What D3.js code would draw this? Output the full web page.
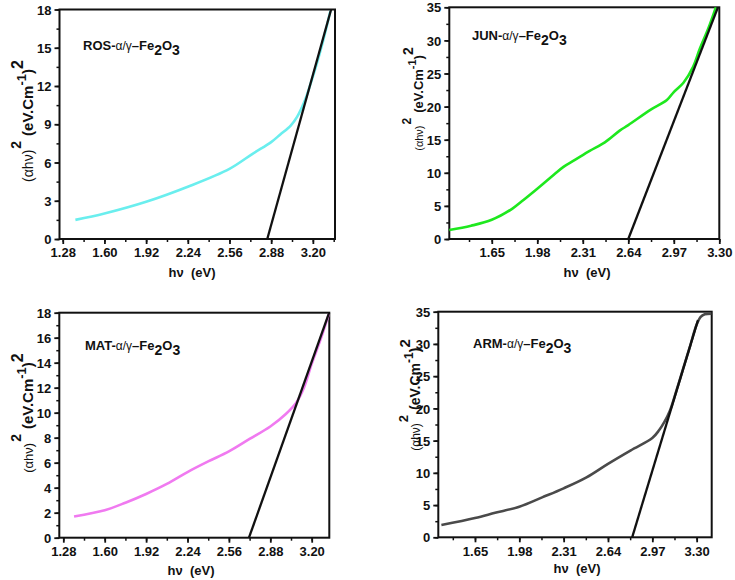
<!DOCTYPE html>
<html>
<head>
<meta charset="utf-8">
<script src="https://cdn.jsdelivr.net/npm/d3@7"></script>
<style>
  body { margin: 0; background: #fff; }
  svg { display: block; }
  text { font-family: "Liberation Sans", Arial, sans-serif; fill: #111; }
</style>
</head>
<body>
<div id="chart"></div>
<script>
// ---- data ----
const rosX = [1.377, 1.60, 1.92, 2.24, 2.56, 2.74, 2.88, 2.95, 3.03, 3.08, 3.14, 3.18, 3.22, 3.28, 3.335];
const rosY = [1.5, 2.0, 2.92, 4.1, 5.5, 6.7, 7.6, 8.2, 8.9, 9.6, 10.9, 12.1, 13.4, 15.6, 17.9];
const rosFitX = [2.85, 3.34];
const rosFitY = [0, 18];

const junX = [1.342, 1.50, 1.65, 1.80, 1.88, 1.98, 2.10, 2.17, 2.25, 2.36, 2.47, 2.58, 2.64, 2.80, 2.92, 2.97, 3.04, 3.11, 3.16, 3.22, 3.275];
const junY = [1.35, 2.0, 2.9, 4.6, 5.9, 7.6, 9.7, 10.9, 11.9, 13.3, 14.6, 16.4, 17.2, 19.5, 21.0, 22.2, 23.6, 26.0, 28.8, 31.8, 35];
const junFitX = [2.64, 3.29];
const junFitY = [0, 35];

const matX = [1.363, 1.60, 1.76, 1.92, 2.08, 2.24, 2.40, 2.56, 2.72, 2.88, 3.00, 3.08, 3.14, 3.20, 3.27, 3.333];
const matY = [1.7, 2.2, 2.8, 3.5, 4.3, 5.25, 6.1, 6.9, 7.9, 8.9, 9.9, 10.8, 12.0, 13.9, 15.9, 17.9];
const matFitX = [2.715, 3.335];
const matFitY = [0, 18];

const armX = [1.40, 1.65, 1.80, 1.98, 2.15, 2.31, 2.48, 2.64, 2.81, 2.97, 3.02, 3.06, 3.10, 3.15, 3.20, 3.25, 3.30, 3.33, 3.36, 3.41];
const armY = [1.9, 3.0, 3.8, 4.75, 6.2, 7.6, 9.3, 11.4, 13.5, 15.4, 16.6, 17.9, 19.6, 22.8, 26.2, 29.6, 33.0, 34.2, 34.6, 34.7];
const armFitX = [2.82, 3.31];
const armFitY = [0, 33.7];

// tick labels
const xTicksA = [1.28, 1.60, 1.92, 2.24, 2.56, 2.88, 3.20];
const xTicksB = [1.65, 1.98, 2.31, 2.64, 2.97, 3.30];
const yTicksRos = [0, 3, 6, 9, 12, 15, 18];
const yTicksMat = [0, 2, 4, 6, 8, 10, 12, 14, 16, 18];
const yTicks35 = [0, 5, 10, 15, 20, 25, 30, 35];

const width = 735;
const height = 580;

// ylab: [x, y, small font, bold font]
const panels = [
  { name: "ROS", xs: rosX, ys: rosY, fx: rosFitX, fy: rosFitY, color: "#6aeeee",
    xDom: [1.255, 3.37], yMax: 18, xTicks: xTicksA, yTicks: yTicksRos, xMinor: 0.16, yMinor: 1.5,
    box: { l: 59.5, r: 335, t: 9.5, b: 239 }, title: [83, 50], ylab: [33, 121, 14, 15], xlab: [192, 277] },
  { name: "JUN", xs: junX, ys: junY, fx: junFitX, fy: junFitY, color: "#1ee81e",
    xDom: [1.342, 3.30], yMax: 35, xTicks: xTicksB, yTicks: yTicksB(), xMinor: 0.165, yMinor: 2.5,
    box: { l: 449.3, r: 719.3, t: 7.3, b: 239 }, title: [472, 40], ylab: [423, 99, 11, 13], xlab: [587, 277] },
  { name: "MAT", xs: matX, ys: matY, fx: matFitX, fy: matFitY, color: "#f07af0",
    xDom: [1.249, 3.336], yMax: 18, xTicks: xTicksA, yTicks: yTicksMat, xMinor: 0.16, yMinor: 1,
    box: { l: 59.3, r: 329.3, t: 312.7, b: 537.7 }, title: [85, 350], ylab: [33, 413, 13, 15], xlab: [191, 575] },
  { name: "ARM", xs: armX, ys: armY, fx: armFitX, fy: armFitY, color: "#4a4a4a",
    xDom: [1.377, 3.412], yMax: 35, xTicks: xTicksB, yTicks: yTicksB(), xMinor: 0.165, yMinor: 2.5,
    box: { l: 438.3, r: 711.7, t: 311.7, b: 537.3 }, title: [473, 348], ylab: [420, 395, 12, 14], xlab: [577, 573] }
];
function yTicksB() { return yTicks35; }

const svg = d3.select("#chart")
  .append("svg")
  .attr("width", width)
  .attr("height", height);

function minorTicks(dom, step, anchor) {
  const start = anchor - Math.ceil((anchor - dom[0]) / step) * step;
  return d3.range(start, dom[1] + 1e-9, step).filter(v => v >= dom[0] - 1e-9 && v <= dom[1] + 1e-9);
}

panels.forEach(p => {
  const b = p.box;
  const x = d3.scaleLinear().domain(p.xDom).range([b.l, b.r]);
  const y = d3.scaleLinear().domain([0, p.yMax]).range([b.b, b.t]);
  const g = svg.append("g");

  // minor ticks
  g.append("g")
    .attr("transform", `translate(0,${b.b})`)
    .call(d3.axisBottom(x).tickValues(minorTicks(p.xDom, p.xMinor, p.xTicks[0])).tickSize(3).tickFormat(""))
    .call(a => a.select(".domain").remove())
    .selectAll("line").attr("stroke", "#111").attr("stroke-width", 1.5);
  g.append("g")
    .attr("transform", `translate(${b.l},0)`)
    .call(d3.axisLeft(y).tickValues(minorTicks([0, p.yMax], p.yMinor, 0)).tickSize(3).tickFormat(""))
    .call(a => a.select(".domain").remove())
    .selectAll("line").attr("stroke", "#111").attr("stroke-width", 1.5);

  // major ticks
  const xa = g.append("g")
    .attr("transform", `translate(0,${b.b})`)
    .call(d3.axisBottom(x).tickValues(p.xTicks).tickSize(5).tickPadding(4).tickFormat(d3.format(".2f")));
  const ya = g.append("g")
    .attr("transform", `translate(${b.l},0)`)
    .call(d3.axisLeft(y).tickValues(p.yTicks).tickSize(5).tickPadding(3).tickFormat(d3.format("d")));
  [xa, ya].forEach(a => {
    a.select(".domain").remove();
    a.selectAll("line").attr("stroke", "#111").attr("stroke-width", 1.8);
    a.selectAll("text")
      .attr("fill", "#111")
      .style("font-family", "'Liberation Sans', Arial, sans-serif")
      .style("font-size", "13px")
      .style("font-weight", "bold");
  });
  ya.selectAll("text").attr("dy", "0.36em");

  // frame
  g.append("rect")
    .attr("x", b.l).attr("y", b.t)
    .attr("width", b.r - b.l).attr("height", b.b - b.t)
    .attr("fill", "none").attr("stroke", "#111").attr("stroke-width", 2);

  const line = d3.line()
    .x(d => x(d[0]))
    .y(d => y(d[1]))
    .curve(d3.curveCatmullRom.alpha(0.5));

  // data curve
  g.append("path")
    .datum(p.xs.map((v, i) => [v, p.ys[i]]))
    .attr("d", line)
    .attr("fill", "none")
    .attr("stroke", p.color)
    .attr("stroke-width", 2.6);

  // linear fit
  g.append("path")
    .datum(p.fx.map((v, i) => [v, p.fy[i]]))
    .attr("d", d3.line().x(d => x(d[0])).y(d => y(d[1])))
    .attr("fill", "none")
    .attr("stroke", "#111")
    .attr("stroke-width", 2.3);

  // sample label
  const t = g.append("text")
    .attr("x", p.title[0]).attr("y", p.title[1])
    .style("font-size", "13px").style("font-weight", "bold");
  t.append("tspan").text(p.name + "-");
  t.append("tspan").style("font-weight", "normal").style("font-size", "12px").text("α/γ");
  t.append("tspan").text("–Fe");
  t.append("tspan").attr("dy", 5).style("font-size", "14px").text("2");
  t.append("tspan").attr("dy", -5).text("O");
  t.append("tspan").attr("dy", 5).style("font-size", "14px").text("3");

  // x axis title
  g.append("text")
    .attr("x", p.xlab[0]).attr("y", p.xlab[1])
    .attr("text-anchor", "middle")
    .style("font-size", "13px").style("font-weight", "bold")
    .style("white-space", "pre")
    .text("hν  (eV)");

  // y axis title
  const big = p.ylab[3];
  const yl = g.append("text")
    .attr("transform", `translate(${p.ylab[0]},${p.ylab[1]}) rotate(-90)`)
    .attr("text-anchor", "middle")
    .style("font-size", big + "px").style("font-weight", "bold");
  yl.append("tspan").style("font-weight", "normal").style("font-size", p.ylab[2] + "px").text("(αhν)");
  yl.append("tspan").attr("dy", -12).attr("dx", 1).style("font-size", (big - 1) + "px").text("2");
  yl.append("tspan").attr("dy", 12).attr("dx", 5).text("(eV.Cm");
  yl.append("tspan").attr("dy", -7).style("font-size", (big - 2) + "px").text("-1");
  yl.append("tspan").attr("dy", 7).text(")");
  yl.append("tspan").attr("dy", -10).style("font-size", (big + 1) + "px").text("2");
});
</script>
</body>
</html>
